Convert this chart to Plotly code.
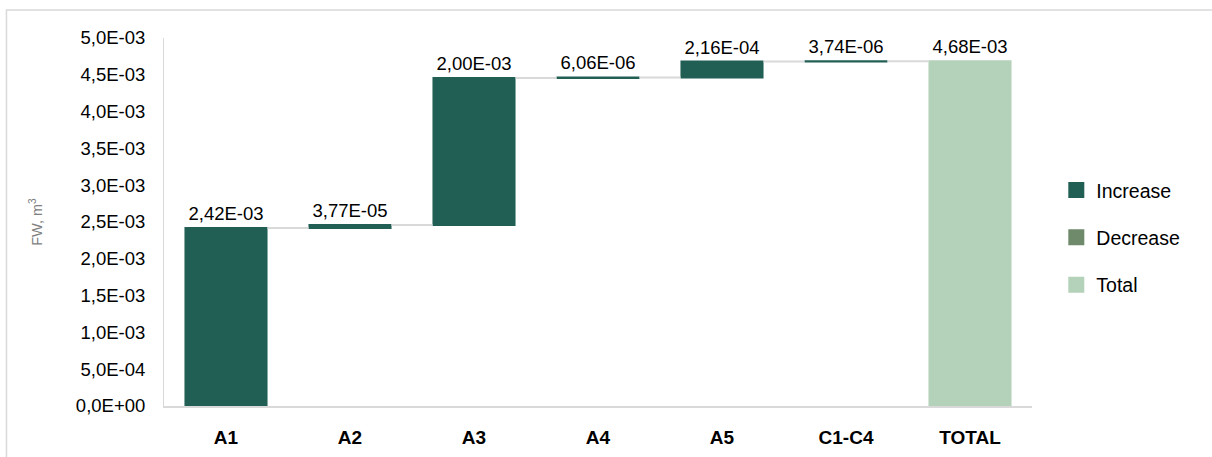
import plotly.graph_objects as go

categories = ["A1", "A2", "A3", "A4", "A5", "C1-C4", "TOTAL"]
values = [2.42e-03, 3.77e-05, 2.00e-03, 6.06e-06, 2.16e-04, 3.74e-06, 4.68e-03]
measures = ["relative", "relative", "relative", "relative", "relative", "relative", "total"]
value_labels = ["2,42E-03", "3,77E-05", "2,00E-03", "6,06E-06", "2,16E-04", "3,74E-06", "4,68E-03"]
tick_vals = [0, 5e-4, 1e-3, 1.5e-3, 2e-3, 2.5e-3, 3e-3, 3.5e-3, 4e-3, 4.5e-3, 5e-3]
tick_text = ["0,0E+00", "5,0E-04", "1,0E-03", "1,5E-03", "2,0E-03", "2,5E-03",
             "3,0E-03", "3,5E-03", "4,0E-03", "4,5E-03", "5,0E-03"]
legend_names = ["Increase", "Decrease", "Total"]

C_INC = "#215F54"
C_DEC = "#6E8A6B"
C_TOT = "#B4D1B9"
FONT = "Liberation Sans, Arial, sans-serif"

fig = go.Figure()
fig.add_trace(go.Waterfall(
    x=categories, y=values, measure=measures,
    text=value_labels, textposition="outside",
    textfont=dict(family=FONT, size=18.5, color="#000000"),
    increasing=dict(marker=dict(color=C_INC)),
    decreasing=dict(marker=dict(color=C_DEC)),
    totals=dict(marker=dict(color=C_TOT)),
    connector=dict(line=dict(color="#D9D9D9", width=2)),
    width=0.67,
    showlegend=False,
    cliponaxis=False,
    hoverinfo="skip",
))
for name, col in zip(legend_names, [C_INC, C_DEC, C_TOT]):
    fig.add_trace(go.Scatter(x=[None], y=[None], name=name, mode="markers",
                             marker=dict(symbol="square", size=19, color=col),
                             legendgroup=name, showlegend=True))

fig.update_layout(
    width=1212, height=457,
    margin=dict(l=164, r=180, t=38, b=51),
    paper_bgcolor="white", plot_bgcolor="white",
    font=dict(family=FONT, size=18, color="#000000"),
    legend=dict(x=1.028, y=0.457, xanchor="left", yanchor="middle",
                font=dict(family=FONT, size=19.5, color="#000000"),
                tracegroupgap=19, traceorder="grouped", itemwidth=30,
                itemsizing="trace"),
    xaxis=dict(showline=True, linecolor="#D9D9D9", linewidth=2,
               tickfont=dict(family=FONT, size=19, color="#000000", weight="bold"),
               ticks="", showgrid=False, fixedrange=True, ticklabelstandoff=13,
               automargin=False),
    yaxis=dict(range=[0, 5e-3], tickvals=tick_vals, ticktext=tick_text,
               showline=True, linecolor="#D9D9D9", linewidth=1,
               showgrid=False, zeroline=False, ticks="",
               tickfont=dict(family=FONT, size=18.5, color="#000000"),
               ticklabelstandoff=14, automargin=False, fixedrange=True,
               title=dict(text="FW, m<sup>3</sup>", font=dict(family=FONT, size=14.5, color="#808080"),
                          standoff=29)),
    shapes=[dict(type="rect", xref="paper", yref="paper",
                 x0=-0.1815, y0=-0.25, x1=1.3, y1=1.076,
                 line=dict(color="#D9D9D9", width=1.5), fillcolor="rgba(0,0,0,0)")],
)

fig.write_html("out.html", config={"displayModeBar": False},
               post_script="document.body.style.margin='0';")
